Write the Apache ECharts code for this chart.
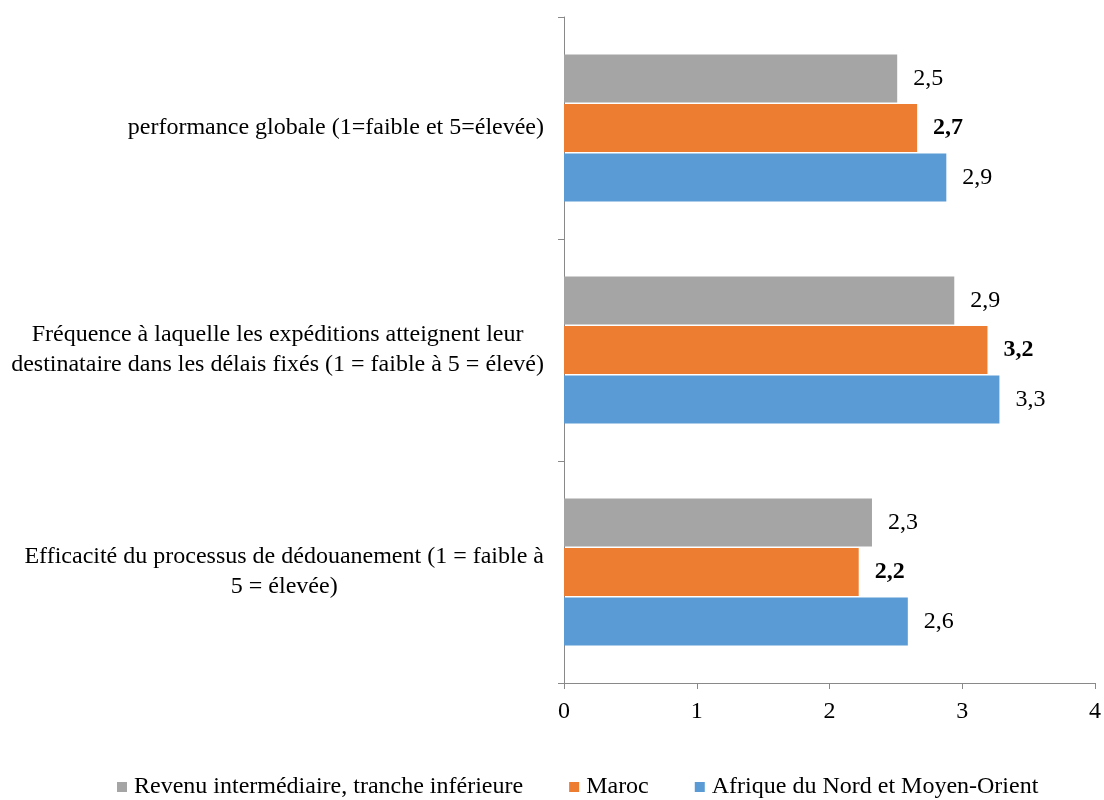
<!DOCTYPE html>
<html>
<head>
<meta charset="utf-8">
<style>
  html, body { margin: 0; padding: 0; background: #ffffff; }
  #chart { width: 1104px; height: 800px; }
</style>
<script src="https://cdn.jsdelivr.net/npm/echarts@6/dist/echarts.min.js"></script>
</head>
<body>
<div id="chart"></div>
<script>
// Indicator categories, listed top to bottom
const categories = [
  'performance globale (1=faible et 5=élevée)',
  'Fréquence à laquelle les expéditions atteignent leur\ndestinataire dans les délais fixés (1 = faible à 5 = élevé)',
  'Efficacité du processus de dédouanement (1 = faible à\n5 = élevée)'
];

const seriesNames = [
  'Revenu intermédiaire, tranche inférieure',
  'Maroc',
  'Afrique du Nord et Moyen-Orient'
];

// Scores per indicator (1 = low, 5 = high)
const revenuInterValues = [2.51, 2.94, 2.32];
const marocValues = [2.66, 3.19, 2.22];
const afriqueNordValues = [2.88, 3.28, 2.59];

const xTicks = [0, 1, 2, 3, 4];

const FONT = '"Liberation Serif", "Times New Roman", serif';
const AXIS_COLOR = '#898989';

const fmt = v => v.toFixed(1).replace('.', ',');

// Each label line is its own rich token so the lines centre on each other
const labelFormatter = txt => txt.split('\n').map(l => '{c|' + l + '}').join('\n');

function barSeries(name, values, color, bold) {
  return {
    name: name,
    type: 'bar',
    data: values,
    barWidth: 48,
    barGap: '3%',
    itemStyle: { color: color },
    label: {
      show: true,
      position: 'right',
      distance: 16,
      formatter: p => fmt(p.value),
      fontFamily: FONT,
      fontSize: 24,
      fontWeight: bold ? 'bold' : 'normal',
      color: '#000000'
    },
    emphasis: { disabled: true },
    animation: false
  };
}

const chart = echarts.init(document.getElementById('chart'), null, { renderer: 'canvas' });

chart.setOption({
  backgroundColor: '#ffffff',
  animation: false,
  grid: { left: 564, right: 8, top: 17, bottom: 117, containLabel: false },
  legend: {
    bottom: 1,
    left: 117,
    padding: 0,
    icon: 'rect',
    itemWidth: 10,
    itemHeight: 10,
    itemGap: 46,
    data: seriesNames,
    textStyle: { fontFamily: FONT, fontSize: 24, color: '#000000', padding: [0, 0, 0, 2] },
    selectedMode: false
  },
  xAxis: {
    type: 'value',
    min: xTicks[0],
    max: xTicks[xTicks.length - 1],
    interval: 1,
    axisLine: { show: true, lineStyle: { color: AXIS_COLOR, width: 1 } },
    axisTick: { show: true, length: 6, lineStyle: { color: AXIS_COLOR } },
    splitLine: { show: false },
    axisLabel: {
      margin: 17,
      fontFamily: FONT,
      fontSize: 24,
      color: '#000000',
      formatter: v => String(v)
    }
  },
  yAxis: {
    type: 'category',
    data: categories,
    inverse: true,
    axisLine: { show: true, lineStyle: { color: AXIS_COLOR, width: 1 } },
    axisTick: { show: true, length: 6, lineStyle: { color: AXIS_COLOR } },
    axisLabel: {
      margin: 20,
      fontFamily: FONT,
      fontSize: 24,
      color: '#000000',
      formatter: labelFormatter,
      rich: {
        c: { align: 'center', fontFamily: FONT, fontSize: 24, lineHeight: 30, color: '#000000' }
      }
    }
  },
  series: [
    barSeries(seriesNames[0], revenuInterValues, '#A5A5A5', false),
    barSeries(seriesNames[1], marocValues, '#ED7D31', true),
    barSeries(seriesNames[2], afriqueNordValues, '#5B9BD5', false)
  ]
});
</script>
</body>
</html>
